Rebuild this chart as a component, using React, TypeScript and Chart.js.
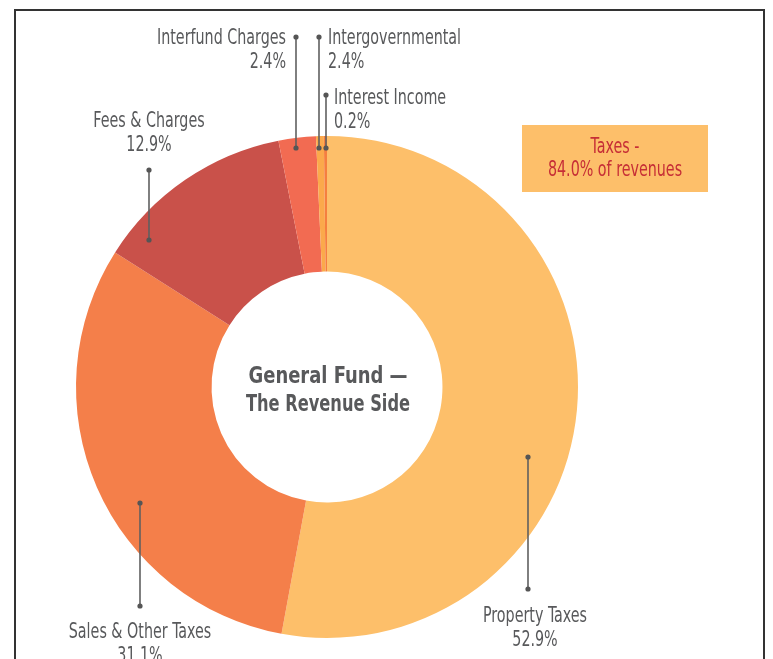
import React, { useEffect, useRef } from "react";
import { Chart, registerables } from "chart.js";

Chart.register(...registerables);

// ---- data ----
const categories = [
  "Property Taxes",
  "Sales & Other Taxes",
  "Fees & Charges",
  "Interfund Charges",
  "Intergovernmental",
  "Interest Income",
];
const shares = [52.9, 31.1, 12.9, 2.4, 0.5, 0.2];
const shareLabels = ["52.9%", "31.1%", "12.9%", "2.4%", "2.4%", "0.2%"];
const centerTitle = ["General Fund —", "The Revenue Side"];
const calloutText = ["Taxes -", "84.0% of revenues"];

// ---- styles ----
const sliceColors = ["#FDBF6A", "#F47F4A", "#C9514A", "#F26B52", "#FBA94B", "#F57F3F"];
const LABEL_FONT = "'Liberation Sans Narrow', 'DejaVu Sans Condensed', 'Liberation Sans', sans-serif";
const TEXT_GRAY = "#58595B";

// label layout, offsets from donut centre in px
const labelLayout = [
  { ax: 201, ay: 70, ey: 202, tx: 208, ty: 235, align: "center" },
  { ax: -187, ay: 116, ey: 219, tx: -187, ty: 251, align: "center" },
  { ax: -178, ay: -147, ey: -217, tx: -178, ty: -260, align: "center" },
  { ax: -31, ay: -239, ey: -350, tx: -41, ty: -343, align: "right" },
  { ax: -8, ay: -239, ey: -350, tx: 1, ty: -343, align: "left" },
  { ax: -1, ay: -239, ey: -292, tx: 7, ty: -283, align: "left" },
];

function squeezedText(ctx: CanvasRenderingContext2D, text: string, x: number, y: number, align: CanvasTextAlign, sx: number) {
  ctx.save();
  ctx.translate(x, y);
  ctx.scale(sx, 1);
  ctx.textAlign = align;
  ctx.textBaseline = "alphabetic";
  ctx.fillText(text, 0, 0);
  ctx.restore();
}

const decorPlugin = {
  id: "decor",
  beforeDraw(chart: any) {
    const ctx: CanvasRenderingContext2D = chart.ctx;
    ctx.save();
    ctx.strokeStyle = "#333333";
    ctx.lineWidth = 2;
    ctx.beginPath();
    ctx.moveTo(15, 700);
    ctx.lineTo(15, 10);
    ctx.lineTo(764, 10);
    ctx.lineTo(764, 700);
    ctx.stroke();
    ctx.restore();
  },
  afterDraw(chart: any) {
    const ctx: CanvasRenderingContext2D = chart.ctx;
    const arc = chart.getDatasetMeta(0).data[0];
    const cx = arc.x;
    const cy = arc.y;

    ctx.save();
    ctx.font = `21px ${LABEL_FONT}`;
    const sx = 129 / ctx.measureText("Interfund Charges").width;

    labelLayout.forEach((L, i) => {
      ctx.strokeStyle = "#606060";
      ctx.lineWidth = 1.6;
      ctx.beginPath();
      ctx.moveTo(cx + L.ax, cy + L.ay);
      ctx.lineTo(cx + L.ax, cy + L.ey);
      ctx.stroke();
      ctx.fillStyle = "#555555";
      [L.ay, L.ey].forEach((yy) => {
        ctx.beginPath();
        ctx.arc(cx + L.ax, cy + yy, 2.6, 0, Math.PI * 2);
        ctx.fill();
      });
      ctx.fillStyle = TEXT_GRAY;
      squeezedText(ctx, categories[i], cx + L.tx, cy + L.ty, L.align as CanvasTextAlign, sx);
      squeezedText(ctx, shareLabels[i], cx + L.tx, cy + L.ty + 23.5, L.align as CanvasTextAlign, sx);
    });

    // callout box
    ctx.fillStyle = "#FDBF6A";
    ctx.fillRect(cx + 195, cy - 262, 186, 67);
    ctx.fillStyle = "#C62E36";
    squeezedText(ctx, calloutText[0], cx + 288, cy - 234, "center", sx);
    squeezedText(ctx, calloutText[1], cx + 288, cy - 211, "center", sx);

    // centre title
    ctx.font = `bold 23px ${LABEL_FONT}`;
    const bsx1 = 159 / ctx.measureText(centerTitle[0]).width;
    const bsx2 = 164 / ctx.measureText(centerTitle[1]).width;
    ctx.fillStyle = TEXT_GRAY;
    squeezedText(ctx, centerTitle[0], cx + 1, cy - 4, "center", Math.min(bsx1, bsx2 * 1.15));
    squeezedText(ctx, centerTitle[1], cx + 1, cy + 24, "center", bsx2);
    ctx.restore();
  },
};

export default function App() {
  const ref = useRef<HTMLCanvasElement | null>(null);
  useEffect(() => {
    if (!ref.current) return;
    const chart = new Chart(ref.current, {
      type: "doughnut",
      data: {
        labels: categories,
        datasets: [
          {
            data: shares,
            backgroundColor: sliceColors,
            borderWidth: 0,
          },
        ],
      },
      options: {
        responsive: false,
        animation: false,
        cutout: "46%",
        layout: { padding: { left: 76, right: 195, top: 136, bottom: 21 } },
        plugins: { legend: { display: false }, tooltip: { enabled: false } },
      },
      plugins: [decorPlugin],
    });
    return () => chart.destroy();
  }, []);
  return (
    <div style={{ position: "absolute", left: 0, top: 0, width: 773, height: 659, overflow: "hidden", background: "#fff" }}>
      <canvas ref={ref} width={773} height={659} style={{ display: "block" }} />
    </div>
  );
}
